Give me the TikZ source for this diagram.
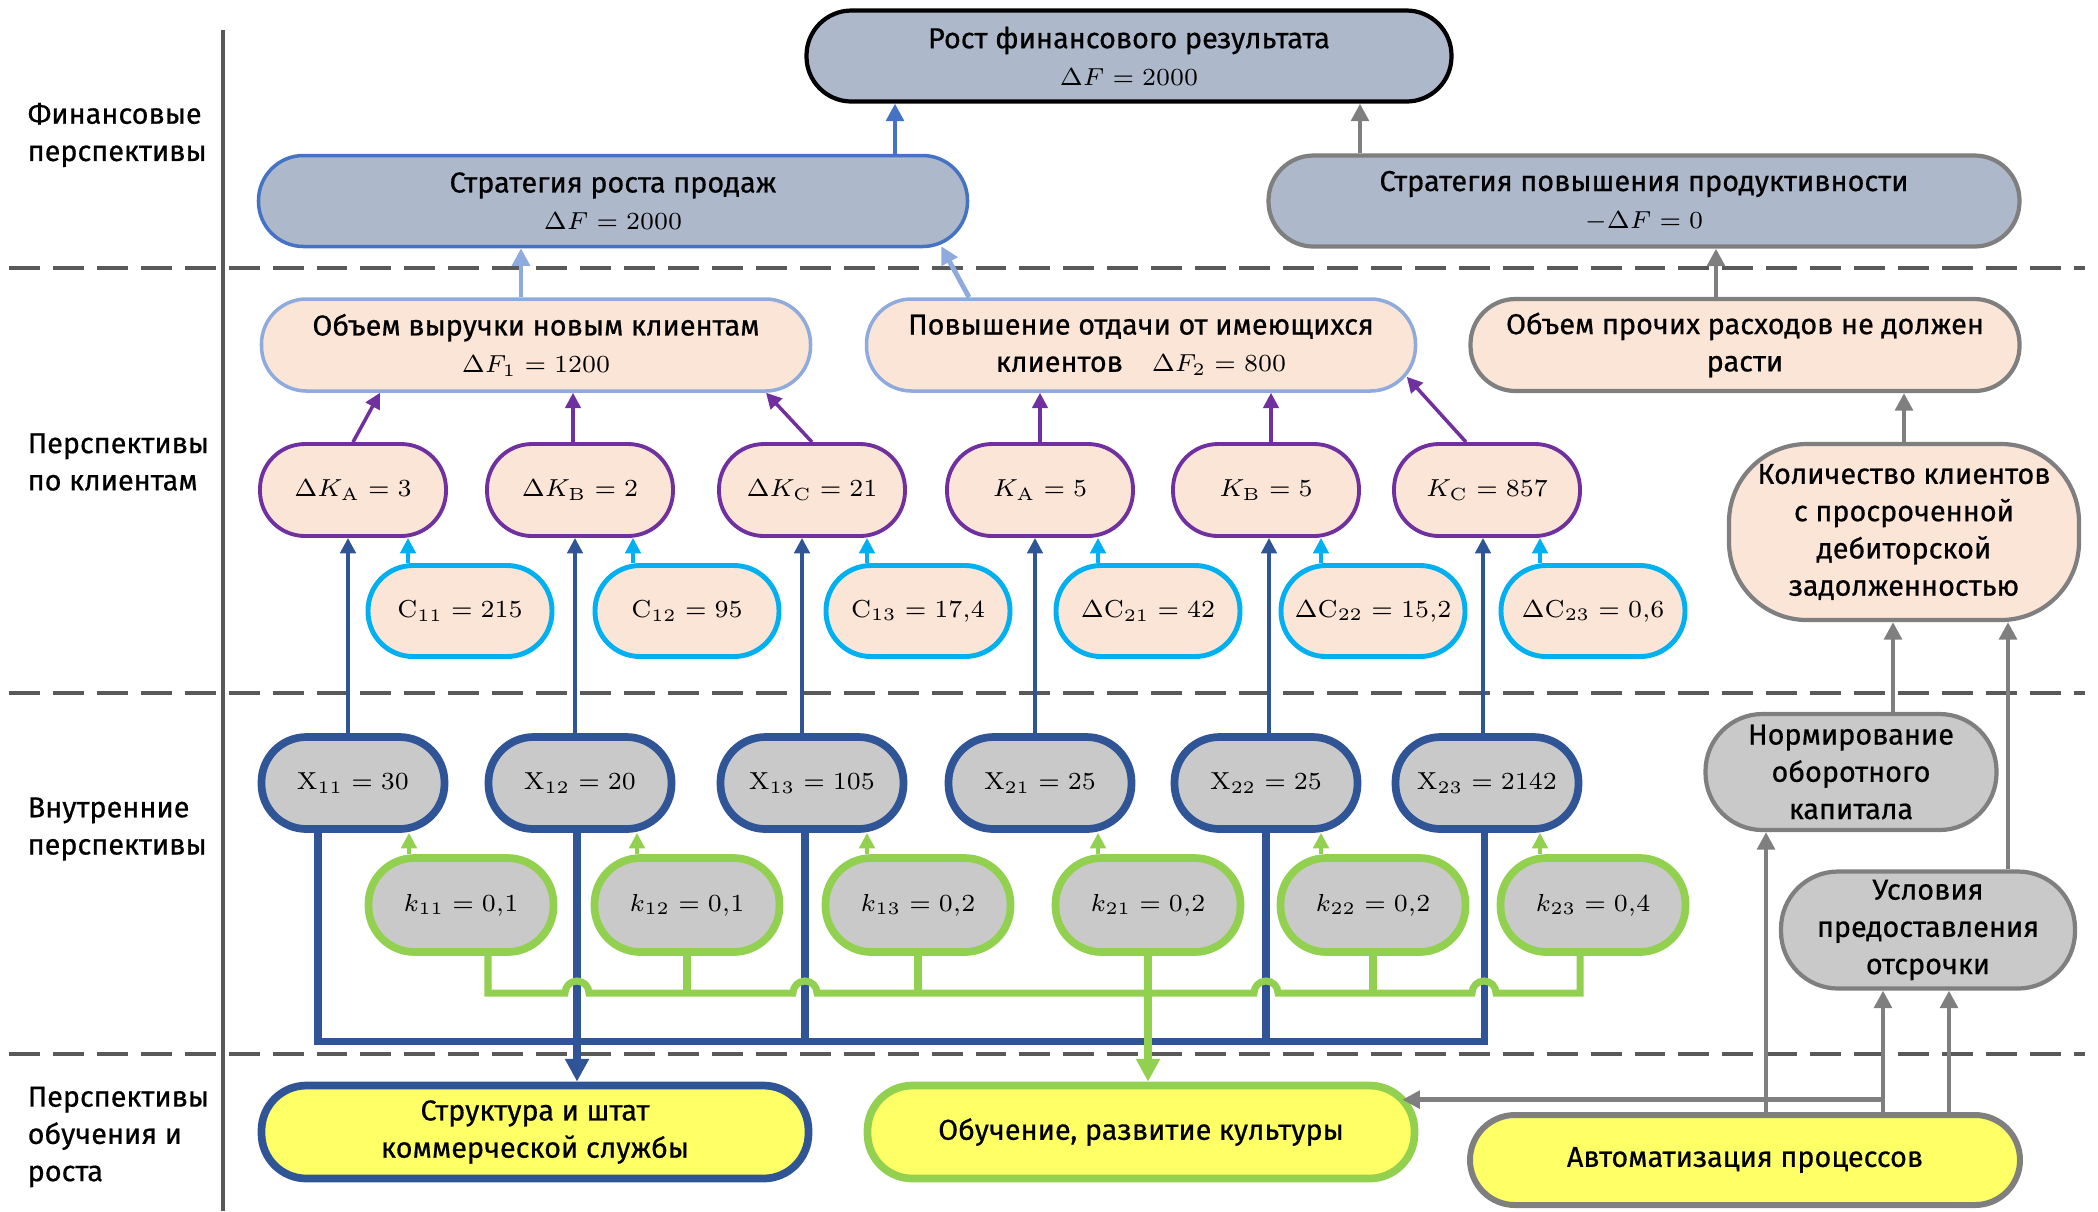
\documentclass[tikz,border=0pt]{standalone}
\usepackage[no-math]{fontspec}
\setmainfont{Fira Sans}[FakeBold=0.6]
\usepackage{tikz}
\usetikzlibrary{arrows.meta, calc}
\usepackage{amsmath}
\definecolor{Slate} {HTML}{ADB9CA}
\definecolor{Peach} {HTML}{FBE5D6}
\definecolor{Stone} {HTML}{C9C9C9}
\definecolor{Lemon} {HTML}{FFFF66}
\definecolor{Navy}  {HTML}{2F5597}
\definecolor{Azure} {HTML}{4472C4}
\definecolor{Sky}   {HTML}{8FAADC}
\definecolor{Violet}{HTML}{7030A0}
\definecolor{Aqua}  {HTML}{00B0F0}
\definecolor{Leaf}  {HTML}{92D050}
\definecolor{Ash}   {HTML}{7F7F7F}
\definecolor{Coal}  {HTML}{595959}
% math a little smaller than the text
\newcommand\mth[1]{{\fontsize{7.5}{10.6}\selectfont$#1$}}

\tikzset{
  pill/.style   ={draw, rounded corners=0.45cm, inner sep=0pt, align=center,
                  minimum height=0.91cm},
  fin/.style    ={pill, fill=Slate, line width=1.2pt},
  cust/.style   ={pill, fill=Peach, draw=Sky, line width=1pt, minimum width=5.49cm,
                  minimum height=0.92cm},
  kbox/.style   ={pill, fill=Peach, draw=Violet, line width=1.1pt, rounded corners=0.45cm,
                  minimum width=1.86cm, minimum height=0.92cm},
  cbox/.style   ={pill, fill=Peach, draw=Aqua, line width=1.4pt, rounded corners=0.45cm,
                  minimum width=1.84cm, minimum height=0.91cm},
  xbox/.style   ={pill, fill=Stone, draw=Navy, line width=2.2pt, rounded corners=0.45cm,
                  minimum width=1.83cm, minimum height=0.92cm},
  coef/.style   ={pill, fill=Stone, draw=Leaf, line width=2.2pt, rounded corners=0.46cm,
                  minimum width=1.85cm, minimum height=0.94cm},
  goal/.style   ={pill, fill=Lemon, line width=2.2pt, minimum width=5.47cm,
                  minimum height=0.93cm},
  side/.style   ={pill, draw=Ash, line width=1.2pt, rounded corners=0.57cm},
  lbl/.style    ={anchor=west, align=left, inner sep=0pt},
  thin/.style   ={line width=1pt, -{Triangle[length=4.4pt, width=4.4pt]}},
  mid/.style    ={line width=1.4pt, -{Triangle[length=5pt, width=5pt]}},
  bus/.style    ={line width=2pt},
  busarr/.style ={bus, -{Triangle[length=6.5pt, width=6.5pt]}},
  layer/.style  ={Coal, line width=1.1pt, dash pattern=on 8.8pt off 3.7pt}
}

\begin{document}
\begin{tikzpicture}[every node/.style={font=\fontsize{8.2}{10.6}\selectfont}]
  \useasboundingbox (0,0) rectangle (20.98,-12.11);

  % Layers
  \draw[layer] (0.09,-2.68)  -- (20.85,-2.68);
  \draw[layer] (0.09,-6.93)  -- (20.85,-6.93);
  \draw[layer] (0.09,-10.54) -- (20.85,-10.54);
  \draw[Coal, line width=0.9pt] (2.23,-0.30) -- (2.23,-12.11);

  \node[lbl] (lfin)   at (0.27,-1.35)  {Финансовые\\перспективы};
  \node[lbl] (lcust)  at (0.27,-4.62)  {Перспективы\\по клиентам};
  \node[lbl] (linner) at (0.27,-8.29)  {Внутренние\\перспективы};
  \node[lbl] (llearn) at (0.27,-11.37) {Перспективы\\обучения и\\роста};

  % Financial
  \node[fin, draw=black, minimum width=6.45cm] (growth) at (11.29,-0.56)
       {Рост финансового результата\\\mth{\Delta F = 2000}};
  \node[fin, draw=Azure, line width=1pt, minimum width=7.09cm] (sales) at (6.13,-2.01)
       {Стратегия роста продаж\\\mth{\Delta F = 2000}};
  \node[fin, draw=Ash, minimum width=7.51cm] (prod) at (16.44,-2.01)
       {Стратегия повышения продуктивности\\\mth{-\Delta F = 0}};

  % Customers
  \node[cust] (newrev) at (5.36,-3.45)  {Объем выручки новым клиентам\\\mth{\Delta F_1 = 1200}};
  \node[cust] (retrev) at (11.41,-3.45) {Повышение отдачи от имеющихся\\клиентов\quad \mth{\Delta F_2 = 800}};
  \node[cust, draw=Ash, line width=1.2pt] (other) at (17.45,-3.45)
       {Объем прочих расходов не должен\\расти};

  \node[kbox] (dka) at (3.53,-4.90)  {\mth{\Delta K_{\mathrm{A}} = 3}};
  \node[kbox] (dkb) at (5.80,-4.90)  {\mth{\Delta K_{\mathrm{B}} = 2}};
  \node[kbox] (dkc) at (8.12,-4.90)  {\mth{\Delta K_{\mathrm{C}} = 21}};
  \node[kbox] (ka)  at (10.40,-4.90) {\mth{K_{\mathrm{A}} = 5}};
  \node[kbox] (kb)  at (12.66,-4.90) {\mth{K_{\mathrm{B}} = 5}};
  \node[kbox] (kc)  at (14.87,-4.90) {\mth{K_{\mathrm{C}} = 857}};

  \node[cbox] (c11) at (4.60,-6.11)  {\mth{\mathrm{C}_{11} = 215}};
  \node[cbox] (c12) at (6.87,-6.11)  {\mth{\mathrm{C}_{12} = 95}};
  \node[cbox] (c13) at (9.18,-6.11)  {\mth{\mathrm{C}_{13} = 17{,}4}};
  \node[cbox] (c21) at (11.48,-6.11) {\mth{\Delta\mathrm{C}_{21} = 42}};
  \node[cbox] (c22) at (13.73,-6.11) {\mth{\Delta\mathrm{C}_{22} = 15{,}2}};
  \node[cbox] (c23) at (15.93,-6.11) {\mth{\Delta\mathrm{C}_{23} = 0{,}6}};

  \node[side, fill=Peach, minimum width=3.50cm, minimum height=1.76cm, rounded corners=0.78cm]
       (overdue) at (19.04,-5.32) {Количество клиентов\\с просроченной\\дебиторской\\задолженностью};

  % Internal
  \node[xbox] (x11) at (3.53,-7.83)  {\mth{\mathrm{X}_{11} = 30}};
  \node[xbox] (x12) at (5.80,-7.83)  {\mth{\mathrm{X}_{12} = 20}};
  \node[xbox] (x13) at (8.12,-7.83)  {\mth{\mathrm{X}_{13} = 105}};
  \node[xbox] (x21) at (10.40,-7.83) {\mth{\mathrm{X}_{21} = 25}};
  \node[xbox] (x22) at (12.66,-7.83) {\mth{\mathrm{X}_{22} = 25}};
  \node[xbox] (x23) at (14.87,-7.83) {\mth{\mathrm{X}_{23} = 2142}};

  \node[coef] (k11) at (4.61,-9.05)  {\mth{k_{11} = 0{,}1}};
  \node[coef] (k12) at (6.87,-9.05)  {\mth{k_{12} = 0{,}1}};
  \node[coef] (k13) at (9.18,-9.05)  {\mth{k_{13} = 0{,}2}};
  \node[coef] (k21) at (11.48,-9.05) {\mth{k_{21} = 0{,}2}};
  \node[coef] (k22) at (13.73,-9.05) {\mth{k_{22} = 0{,}2}};
  \node[coef] (k23) at (15.93,-9.05) {\mth{k_{23} = 0{,}4}};

  \node[side, fill=Stone, minimum width=2.91cm, minimum height=1.16cm] (normwc) at (18.51,-7.72)
       {Нормирование\\оборотного\\капитала};
  \node[side, fill=Stone, minimum width=2.94cm, minimum height=1.17cm] (deferral) at (19.28,-9.30)
       {Условия\\предоставления\\отсрочки};

  % Learning
  \node[goal, draw=Navy] (staff)    at (5.35,-11.32)  {Структура и штат\\коммерческой службы};
  \node[goal, draw=Leaf] (training) at (11.41,-11.32) {Обучение, развитие культуры};
  \node[goal, draw=Ash, line width=1.7pt, minimum width=5.50cm, minimum height=0.90cm]
       (automation) at (17.45,-11.60) {Автоматизация процессов};

  % Arrows to the top
  \draw[Azure, mid] ([xshift=2.82cm]sales.north) -- ([xshift=2.82cm]sales.north |- growth.south);
  \draw[Ash, mid]   ([xshift=-2.84cm]prod.north) -- ([xshift=-2.84cm]prod.north |- growth.south);
  \draw[Sky, mid]   ([xshift=-0.15cm]newrev.north) -- ([xshift=-0.15cm]newrev.north |- sales.south);
  \draw[Sky, mid]   ([xshift=-1.72cm]retrev.north) -- ([xshift=-0.28cm,yshift=0.02cm]sales.south east);
  \draw[Ash, mid]   ([xshift=-0.29cm]other.north) -- ([xshift=-0.29cm]other.north |- prod.south);

  % Customer arrows
  \draw[Violet, thin] (dka.north) -- ([xshift=-1.56cm]newrev.south);
  \draw[Violet, thin] ([xshift=-0.07cm]dkb.north) -- ([xshift=-0.07cm]dkb.north |- newrev.south);
  \draw[Violet, thin] (dkc.north) -- ([xshift=2.30cm]newrev.south);
  \draw[Violet, thin] (ka.north) -- (ka.north |- retrev.south);
  \draw[Violet, thin] ([xshift=0.05cm]kb.north) -- ([xshift=0.05cm]kb.north |- retrev.south);
  \draw[Violet, thin] ([xshift=-0.21cm]kc.north) -- ([xshift=-0.105cm,yshift=0.16cm]retrev.south east);

  \draw[Aqua, thin] ([xshift=-0.52cm]c11.north) -- ([xshift=-0.52cm]c11.north |- dka.south);
  \draw[Aqua, thin] ([xshift=-0.54cm]c12.north) -- ([xshift=-0.54cm]c12.north |- dkb.south);
  \draw[Aqua, thin] ([xshift=-0.51cm]c13.north) -- ([xshift=-0.51cm]c13.north |- dkc.south);
  \draw[Aqua, thin] ([xshift=-0.50cm]c21.north) -- ([xshift=-0.50cm]c21.north |- ka.south);
  \draw[Aqua, thin] ([xshift=-0.52cm]c22.north) -- ([xshift=-0.52cm]c22.north |- kb.south);
  \draw[Aqua, thin] ([xshift=-0.53cm]c23.north) -- ([xshift=-0.53cm]c23.north |- kc.south);

  \draw[Navy, thin] ([xshift=-0.05cm]x11.north) -- ([xshift=-0.05cm]x11.north |- dka.south);
  \draw[Navy, thin] ([xshift=-0.05cm]x12.north) -- ([xshift=-0.05cm]x12.north |- dkb.south);
  \draw[Navy, thin] ([xshift=-0.10cm]x13.north) -- ([xshift=-0.10cm]x13.north |- dkc.south);
  \draw[Navy, thin] ([xshift=-0.05cm]x21.north) -- ([xshift=-0.05cm]x21.north |- ka.south);
  \draw[Navy, thin] ([xshift=0.03cm]x22.north)  -- ([xshift=0.03cm]x22.north |- kb.south);
  \draw[Navy, thin] ([xshift=-0.04cm]x23.north) -- ([xshift=-0.04cm]x23.north |- kc.south);

  \draw[Ash, mid] (overdue.north) -- (overdue.north |- other.south);
  \draw[Ash, mid] ([xshift=0.42cm]normwc.north) -- ([xshift=0.42cm]normwc.north |- overdue.south);
  \draw[Ash, mid] ([xshift=0.80cm]deferral.north) -- ([xshift=0.80cm]deferral.north |- overdue.south);

  % Internal arrows
  \draw[Leaf, thin] ([xshift=-0.52cm]k11.north) -- ([xshift=-0.52cm]k11.north |- x11.south);
  \draw[Leaf, thin] ([xshift=-0.50cm]k12.north) -- ([xshift=-0.50cm]k12.north |- x12.south);
  \draw[Leaf, thin] ([xshift=-0.51cm]k13.north) -- ([xshift=-0.51cm]k13.north |- x13.south);
  \draw[Leaf, thin] ([xshift=-0.50cm]k21.north) -- ([xshift=-0.50cm]k21.north |- x21.south);
  \draw[Leaf, thin] ([xshift=-0.52cm]k22.north) -- ([xshift=-0.52cm]k22.north |- x22.south);
  \draw[Leaf, thin] ([xshift=-0.53cm]k23.north) -- ([xshift=-0.53cm]k23.north |- x23.south);

  % Bus lines
  \coordinate (gbus) at (0,-9.93);
  \coordinate (bbus) at (0,-10.41);
  \draw[Navy, bus] ([xshift=-0.35cm]x11.south) |- ([xshift=-0.03cm]x23.south |- bbus)
                   -- ([xshift=-0.03cm]x23.south);
  \draw[Navy, bus] ([xshift=-0.07cm]x13.south) -- ([xshift=-0.07cm]x13.south |- bbus);
  \draw[Navy, bus] (x22.south) -- (x22.south |- bbus);
  \draw[Navy, busarr] ([xshift=-0.03cm]x12.south) -- ([xshift=-0.03cm]x12.south |- staff.north);

  \draw[Leaf, bus] ([xshift=0.27cm]k11.south) |- ([xshift=-0.15cm]x12.south |- gbus)
                   arc[start angle=180, end angle=0, radius=0.12cm]
                   -- ([xshift=-0.19cm]x13.south |- gbus)
                   arc[start angle=180, end angle=0, radius=0.12cm]
                   -- ([xshift=-0.12cm]x22.south |- gbus)
                   arc[start angle=180, end angle=0, radius=0.12cm]
                   -- ([xshift=-0.15cm]x23.south |- gbus)
                   arc[start angle=180, end angle=0, radius=0.12cm]
                   -- ([xshift=-0.13cm]k23.south |- gbus) -- ([xshift=-0.13cm]k23.south);
  \draw[Leaf, bus] (k12.south) -- (k12.south |- gbus);
  \draw[Leaf, bus] (k13.south) -- (k13.south |- gbus);
  \draw[Leaf, bus] (k22.south) -- (k22.south |- gbus);
  \draw[Leaf, busarr] (k21.south) -- (k21.south |- training.north);

  % Automation arrows
  \draw[Ash, mid] ([xshift=0.21cm]automation.north) -- ([xshift=0.21cm]automation.north |- normwc.south);
  \draw[Ash, mid] ([xshift=1.38cm]automation.north) -- ([xshift=1.38cm]automation.north |- deferral.south);
  \draw[Ash, mid] ([xshift=2.04cm]automation.north) -- ([xshift=2.04cm]automation.north |- deferral.south);
  \draw[Ash, mid] ([xshift=1.38cm]automation.north) |- ([xshift=-0.16cm,yshift=-0.18cm]training.north east);
\end{tikzpicture}
\end{document}
